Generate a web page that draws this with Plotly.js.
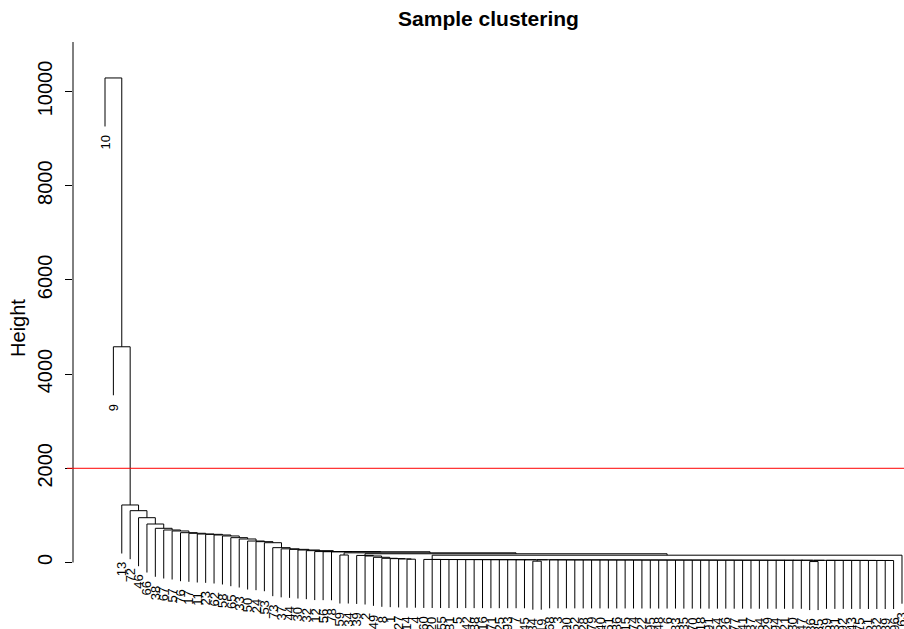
<!DOCTYPE html>
<html><head><meta charset="utf-8">
<script src="https://cdn.plot.ly/plotly-3.0.1.min.js"></script>
<style>body{margin:0;background:#fff}#chart{width:904px;height:629px}</style>
</head><body><div id="chart"></div>
<script>
// Leaf labels in dendrogram display order (left to right)
const leafLabels = [10, 9, 13, 72, 46, 66, 38, 67, 57, 76, 17, 11, 23, 62, 58, 65, 33, 50, 24, 53,
  73, 37, 44, 30, 32, 12, 56, 78, 59, 34,
  39, 2, 49, 8, 1, 27, 14, 4, 60, 20, 55, 81, 5, 42, 88, 16, 71, 25, 93, 7,
  45, 84, 19, 68, 3, 90, 52, 28, 79, 40, 61, 86, 15, 74, 22, 95, 48, 6, 83, 35,
  70, 18, 91, 54, 26, 77, 41, 87, 64, 29, 94, 21, 80, 47, 36, 85, 69, 31, 92, 43,
  75, 51, 82, 89, 96, 63];

// hclust-style merge table: negative = leaf (by display position), positive = earlier merge row
const mergeLeft = [-85, -52, -94, -93, -92, -91, -90, -89, -88, -87,
  1, -84, -83, -82, -81, -80, -79, -78, -77, -76,
  -75, -74, -73, -72, -71, -70, -69, -68, -67, -66,
  -65, -64, -63, -62, -61, -60, -59, -58, -57, -56,
  -55, -54, 2, -51, -50, -49, -48, -47, -46, -45,
  -44, -43, -42, -41, -40, -39, 56, -37, -36, -35,
  -34, -33, -32, -31, 64, -29, 66, -28, -27, -26,
  -25, -24, -23, -22, -21, -20, -19, -18, -17, -16,
  -15, -14, -13, -12, -11, -10, -9, -8, -7, -6,
  -5, -4, -3, -2, -1];
const mergeRight = [-86, -53, -95, 3, 4, 5, 6, 7, 8, 9,
  10, 11, 12, 13, 14, 15, 16, 17, 18, 19,
  20, 21, 22, 23, 24, 25, 26, 27, 28, 29,
  30, 31, 32, 33, 34, 35, 36, 37, 38, 39,
  40, 41, 42, 43, 44, 45, 46, 47, 48, 49,
  50, 51, 52, 53, 54, 55, -96, -38, 58, 59,
  60, 61, 62, 63, 57, -30, 65, 67, 68, 69,
  70, 71, 72, 73, 74, 75, 76, 77, 78, 79,
  80, 81, 82, 83, 84, 85, 86, 87, 88, 89,
  90, 91, 92, 93, 94];
const mergeHeight = [20, 28, 42, 43, 43, 44, 44, 45, 45, 46,
  46, 47, 47, 47, 48, 48, 48, 49, 49, 49,
  50, 50, 50, 51, 51, 51, 52, 52, 52, 53,
  53, 53, 54, 54, 54, 55, 55, 55, 56, 56,
  57, 57, 58, 58, 59, 59, 60, 60, 61, 61,
  62, 62, 63, 63, 64, 65, 155, 70, 76, 82,
  89, 110, 138, 150, 185, 159, 205, 228, 230, 232,
  251, 265, 279, 290, 315, 420, 442, 456, 499, 527,
  563, 584, 598, 605, 620, 633, 669, 690, 726, 817,
  951, 1100, 1221, 4580, 10287];

const cutHeight = 2000;
const yTicks = [0, 2000, 4000, 6000, 8000, 10000];
const HANG = 1030;

const FONT = 'Liberation Sans, Arial, Helvetica, sans-serif';
const n = leafLabels.length;
const nodeX = [], nodeY = [];
const xs = [], ys = [];
const leafBottom = new Array(n + 1);
function child(c, h) {
  if (c < 0) { const p = -c; return {x: p, y: h - HANG, leaf: p}; }
  return {x: nodeX[c - 1], y: nodeY[c - 1]};
}
for (let i = 0; i < mergeLeft.length; i++) {
  const h = mergeHeight[i];
  const a = child(mergeLeft[i], h), b = child(mergeRight[i], h);
  xs.push(a.x, a.x, b.x, b.x, null);
  ys.push(a.y, h, h, b.y, null);
  nodeX[i] = (a.x + b.x) / 2; nodeY[i] = h;
  if (a.leaf) leafBottom[a.leaf] = a.y;
  if (b.leaf) leafBottom[b.leaf] = b.y;
}

const annotations = [];
for (let i = 1; i <= n; i++) {
  annotations.push({x: i, y: leafBottom[i], xref: 'x', yref: 'y', text: String(leafLabels[i - 1]),
    textangle: -90, xanchor: 'center', yanchor: 'top', yshift: -7, showarrow: false,
    font: {family: FONT, size: 13, color: '#000'}});
}
annotations.push({x: 0, xref: 'paper', xshift: -55, y: 4980, yref: 'y', text: 'Height', textangle: -90,
  xanchor: 'center', yanchor: 'middle', showarrow: false, font: {family: FONT, size: 20, color: '#000'}});

const trace = {x: xs, y: ys, mode: 'lines', type: 'scatter', line: {color: '#000', width: 1},
  hoverinfo: 'skip', connectgaps: false};

const layout = {
  width: 904, height: 629, margin: {l: 73, r: 0, t: 40, b: 0},
  paper_bgcolor: '#fff', plot_bgcolor: '#fff', showlegend: false,
  title: {text: '<b>Sample clustering</b>', font: {family: FONT, size: 21, color: '#000'},
    x: 0.5, xref: 'paper', xanchor: 'center', y: 0.971, yref: 'container', yanchor: 'middle'},
  xaxis: {range: [-2.814, 96.24], visible: false, fixedrange: true},
  yaxis: {range: [-1412, 11093], tickvals: yTicks, ticktext: yTicks.map(String), tickangle: -90,
    ticks: 'outside', ticklen: 7, tickwidth: 1, tickcolor: '#000', showgrid: false, zeroline: false,
    showline: false, ticklabelstandoff: 5, tickfont: {family: FONT, size: 20, color: '#000'}, fixedrange: true},
  shapes: [
    {type: 'line', xref: 'paper', x0: 0, x1: 0, yref: 'y', y0: 0, y1: 11050, line: {color: '#000', width: 1}},
    {type: 'line', xref: 'paper', x0: -0.0072, x1: 1, yref: 'y', y0: cutHeight, y1: cutHeight, line: {color: '#ff0000', width: 1}}
  ],
  annotations: annotations
};
Plotly.newPlot('chart', [trace], layout, {displayModeBar: false, staticPlot: true});
</script></body></html>
